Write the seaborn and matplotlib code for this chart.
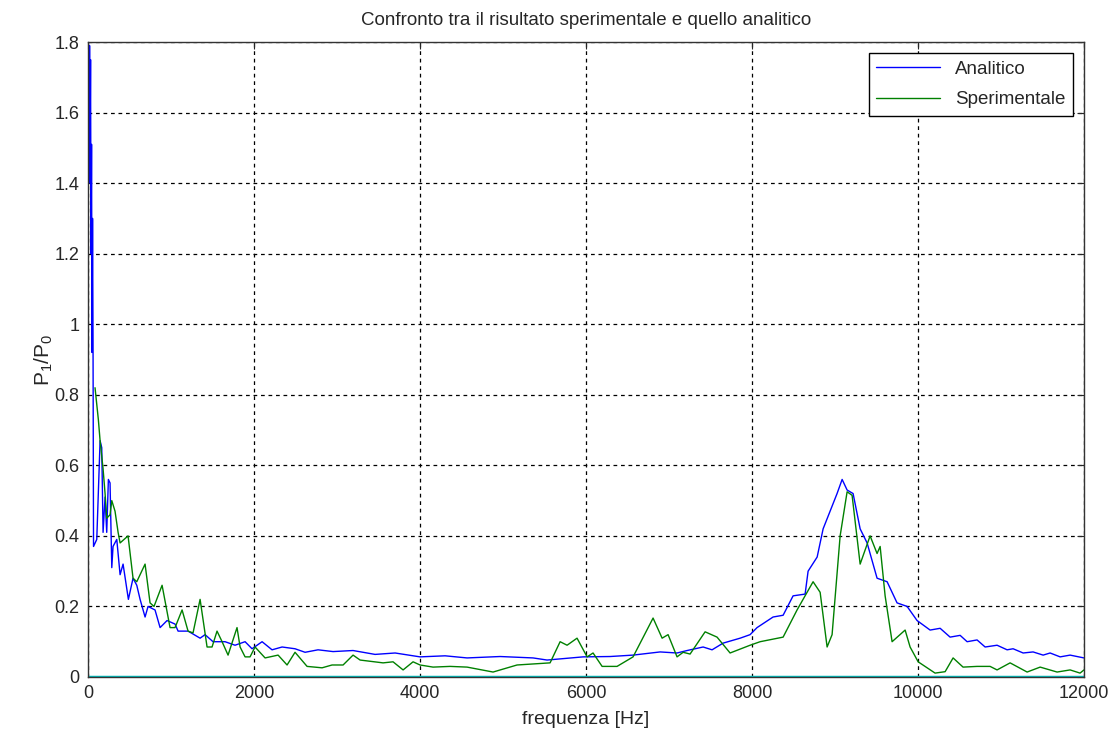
import seaborn as sns
import pandas as pd
import matplotlib.pyplot as plt

# analytic curve (frequency in Hz, ratio)
freq_an = [0, 6, 12, 18, 24, 30, 36, 42, 48, 54, 60, 66, 105, 145, 165, 181, 205, 225,
           245, 265, 286, 301, 346, 386, 422, 486, 542, 587, 627, 687, 723, 807, 868, 952,
           1048, 1085, 1205, 1350, 1410, 1506, 1651, 1771, 1892, 1976, 2097, 2217, 2338,
           2494, 2615, 2771, 2952, 3193, 3458, 3700, 4000, 4302, 4567, 4965, 5362, 5531,
           5965, 6290, 6567, 6893, 7097, 7218, 7411, 7519, 7652, 7857, 7977, 8061, 8254,
           8375, 8495, 8640, 8676, 8785, 8857, 8941, 9025, 9086, 9146, 9218, 9303, 9387,
           9507, 9628, 9748, 9869, 9989, 10146, 10267, 10387, 10508, 10592, 10712, 10809,
           10953, 11074, 11146, 11267, 11387, 11508, 11592, 11713, 11833, 12000]
val_an = [1.15, 1.7, 1.4, 1.79, 1.5, 1.75, 1.2, 1.51, 0.92, 1.3, 0.95, 0.37, 0.39, 0.67,
          0.65, 0.41, 0.51, 0.41, 0.56, 0.55, 0.31, 0.37, 0.39, 0.29, 0.32, 0.22, 0.28,
          0.26, 0.22, 0.17, 0.20, 0.19, 0.14, 0.16, 0.15, 0.13, 0.13, 0.11, 0.12, 0.10,
          0.10, 0.09, 0.10, 0.08, 0.10, 0.077, 0.085, 0.08, 0.07, 0.077, 0.072, 0.075,
          0.064, 0.068, 0.057, 0.06, 0.054, 0.058, 0.054, 0.048, 0.057, 0.058, 0.062,
          0.071, 0.068, 0.075, 0.085, 0.077, 0.096, 0.11, 0.12, 0.14, 0.17, 0.175, 0.23,
          0.235, 0.30, 0.34, 0.42, 0.47, 0.52, 0.56, 0.53, 0.52, 0.42, 0.38, 0.28, 0.27,
          0.21, 0.20, 0.16, 0.133, 0.138, 0.113, 0.118, 0.10, 0.105, 0.085, 0.09, 0.077,
          0.08, 0.068, 0.071, 0.062, 0.068, 0.057, 0.062, 0.054]

# experimental curve
freq_sp = [84, 124, 145, 181, 205, 225, 265, 286, 325, 362, 386, 482, 542, 587, 687, 747,
           795, 892, 988, 1048, 1133, 1205, 1265, 1350, 1434, 1494, 1554, 1615, 1687, 1795,
           1832, 1892, 1952, 2012, 2133, 2290, 2398, 2494, 2639, 2820, 2940, 3073, 3193,
           3278, 3555, 3675, 3796, 3916, 4000, 4157, 4362, 4567, 4880, 5169, 5567, 5688,
           5772, 5892, 6013, 6085, 6194, 6374, 6567, 6808, 6917, 6989, 7097, 7170, 7254,
           7435, 7579, 7736, 7977, 8098, 8375, 8543, 8736, 8821, 8905, 8965, 9062, 9146,
           9206, 9303, 9423, 9507, 9544, 9604, 9688, 9845, 9905, 10002, 10206, 10327,
           10423, 10543, 10712, 10869, 10953, 11110, 11315, 11472, 11676, 11833, 11953,
           12000]
val_sp = [0.82, 0.73, 0.67, 0.59, 0.52, 0.45, 0.46, 0.50, 0.47, 0.41, 0.38, 0.40, 0.28,
          0.27, 0.32, 0.21, 0.20, 0.26, 0.14, 0.14, 0.19, 0.13, 0.125, 0.22, 0.085, 0.085,
          0.13, 0.10, 0.062, 0.14, 0.085, 0.057, 0.057, 0.085, 0.054, 0.062, 0.034, 0.07,
          0.03, 0.026, 0.034, 0.034, 0.062, 0.048, 0.04, 0.043, 0.02, 0.043, 0.034, 0.028,
          0.03, 0.028, 0.014, 0.034, 0.04, 0.10, 0.09, 0.11, 0.057, 0.068, 0.03, 0.03,
          0.057, 0.167, 0.11, 0.12, 0.057, 0.07, 0.065, 0.128, 0.113, 0.068, 0.09, 0.10,
          0.113, 0.19, 0.27, 0.24, 0.085, 0.12, 0.40, 0.525, 0.515, 0.32, 0.40, 0.35, 0.37,
          0.23, 0.10, 0.133, 0.085, 0.043, 0.011, 0.015, 0.054, 0.028, 0.03, 0.03, 0.02,
          0.04, 0.014, 0.028, 0.014, 0.02, 0.011, 0.02]

zero_x = [0, 12000]
zero_y = [0, 0]

sns.set_style('white')
plt.rcParams['font.family'] = ['Liberation Sans', 'DejaVu Sans']
plt.rcParams['mathtext.fontset'] = 'custom'
plt.rcParams['mathtext.rm'] = 'Liberation Sans'
plt.rcParams['mathtext.it'] = 'Liberation Sans'

fig = plt.figure(figsize=(11.16, 7.31), dpi=100)
ax = fig.add_axes([0.0789, 0.0739, 0.8924, 0.8686])

an = pd.DataFrame({'f': freq_an, 'v': val_an})
sp = pd.DataFrame({'f': freq_sp, 'v': val_sp})
sns.lineplot(data=an, x='f', y='v', ax=ax, color='#0000ff', lw=1, label='Analitico')
sns.lineplot(data=sp, x='f', y='v', ax=ax, color='#008000', lw=1, label='Sperimentale')
sns.lineplot(x=zero_x, y=zero_y, ax=ax, color='#00bfbf', lw=2.5)

ax.set_xlim(0, 12000)
ax.set_ylim(0, 1.8)
ax.set_xticks(range(0, 12001, 2000))
ax.set_yticks([i / 10 for i in range(0, 19, 2)])
ax.set_yticklabels(['0', '0.2', '0.4', '0.6', '0.8', '1', '1.2', '1.4', '1.6', '1.8'])
ax.grid(True, color='black', ls=(0, (3, 3)), lw=0.9)
ax.tick_params(direction='in', top=True, right=True, length=5, labelsize=13, width=0.8,
               pad=6)
for s in ax.spines.values():
    s.set_color('#333333')
    s.set_linewidth(1)

ax.set_title('Confronto tra il risultato sperimentale e quello analitico', fontsize=13.5,
             pad=12)
ax.set_xlabel('frequenza [Hz]', fontsize=14, labelpad=6)
ax.set_ylabel(r'$\mathregular{P_1/P_0}$', fontsize=15, labelpad=0)

leg = ax.legend(loc='upper right', handlelength=3.4, fontsize=13.5, fancybox=False,
                framealpha=1, edgecolor='black', borderaxespad=0.6, labelspacing=0.7)
leg.get_frame().set_linewidth(1)

fig.savefig('out.png', dpi=100)
